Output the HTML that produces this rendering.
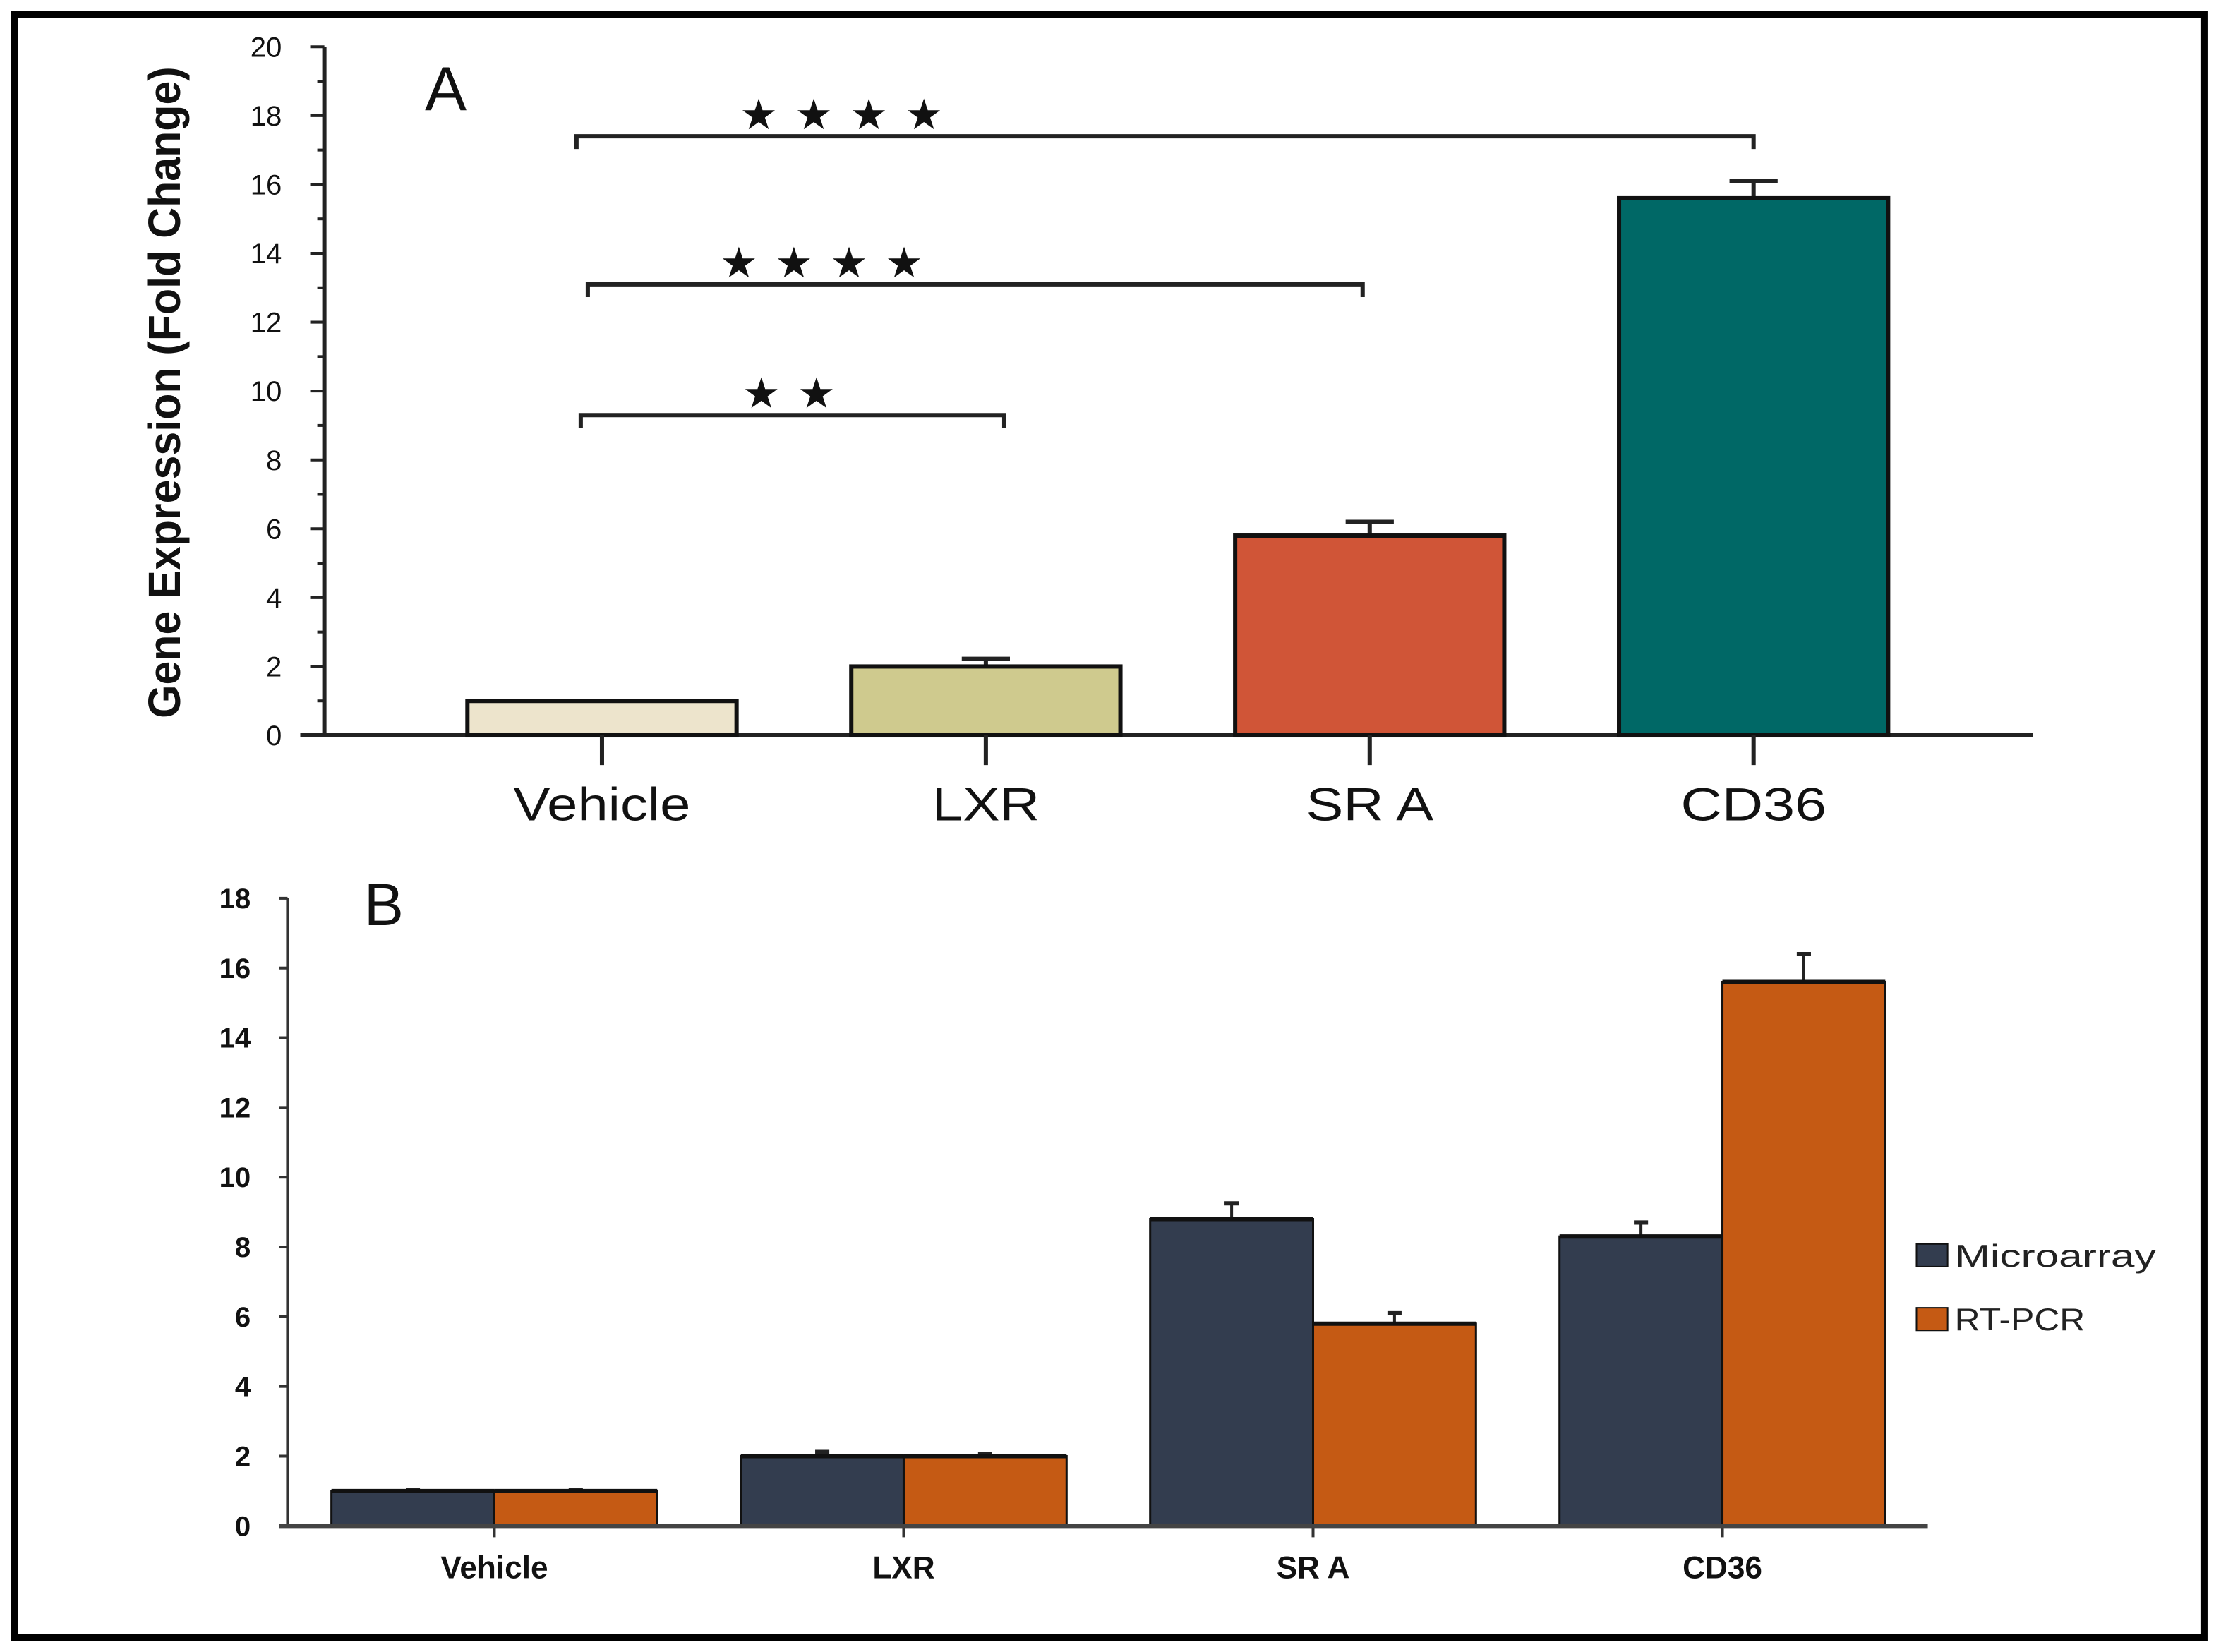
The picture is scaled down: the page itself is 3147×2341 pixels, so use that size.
<!DOCTYPE html>
<html><head><meta charset="utf-8"><style>
html,body{margin:0;padding:0;background:#fff;}
svg{display:block;}
text{font-family:"Liberation Sans Narrow","Liberation Sans",sans-serif;}
</style></head><body>
<svg id="fig" width="3147" height="2341" viewBox="0 0 1568 1166" preserveAspectRatio="none" xmlns="http://www.w3.org/2000/svg">
<rect x="0" y="0" width="1568" height="1166" fill="#fff"/>
<rect x="10" y="10" width="1546" height="1146" fill="none" stroke="#000" stroke-width="5"/>
<g id="panelA"></g>
<g id="panelB"></g>
</svg>
<script>
const catsA = ["Vehicle","LXR","SR A","CD36"];
const valsA = [1, 2, 5.8, 15.6];
const errA = [0, 0.22, 0.4, 0.5];
const colorsA = ["#ede4cc","#cfca8e","#d05537","#006866"];
const ticksA = [0,2,4,6,8,10,12,14,16,18,20];
const sigPairs = [[0,3],[0,2],[0,1]];
const sigLevels = [17.4, 13.1, 9.3];
const sigStars = ["★★★★","★★★★","★★"];

const catsB = ["Vehicle","LXR","SR A","CD36"];
const microB = [1, 2, 8.8, 8.3];
const microErr = [0.03, 0.12, 0.45, 0.4];
const rtB = [1, 2, 5.8, 15.6];
const rtErr = [0.03, 0.06, 0.3, 0.8];
const ticksB = [0,2,4,6,8,10,12,14,16,18];
const seriesB = ["Microarray","RT-PCR"];

const NS="http://www.w3.org/2000/svg";
function mk(parent,tag,attrs,txt){const e=document.createElementNS(NS,tag);for(const k in attrs)e.setAttribute(k,attrs[k]);if(txt!==undefined)e.textContent=txt;parent.appendChild(e);return e;}

// Panel A
const A=document.getElementById('panelA');
const yA=v=>519-v*(519-33)/20;
const cxA=i=>425+i*271;
const bwA=190;
let e;
e=mk(A,'line',{x1:229,y1:33,x2:229,y2:519,stroke:'#222','stroke-width':3});


e=mk(A,'line',{x1:212,y1:519,x2:1435,y2:519,stroke:'#222','stroke-width':3});


for(let t=0;t<=20;t+=1){mk(A,'line',{x1:229-(t%2?5:10),y1:yA(t),x2:229,y2:yA(t),stroke:'#222','stroke-width':2});}
ticksA.forEach(t=>{e=mk(A,'text',{x:199,y:yA(t)+7,'text-anchor':'end','font-size':20,fill:'#111'},String(t));

});
e=mk(A,'text',{x:0,y:0,transform:'translate(127,277) rotate(-90)','text-anchor':'middle','font-size':32,'font-weight':'bold',fill:'#111',textLength:460,lengthAdjust:'spacingAndGlyphs'},'Gene Expression (Fold Change)');


e=mk(A,'text',{x:300,y:78,'font-size':44,fill:'#111','font-family':'Liberation Sans, sans-serif'},'A');


const labWA=[125,76,90,103];
catsA.forEach((c,i)=>{
 const x=cxA(i)-bwA/2;
 if(errA[i]>0){mk(A,'line',{x1:cxA(i),y1:yA(valsA[i]+errA[i]),x2:cxA(i),y2:yA(valsA[i]),stroke:'#222','stroke-width':3});
  mk(A,'line',{x1:cxA(i)-17,y1:yA(valsA[i]+errA[i]),x2:cxA(i)+17,y2:yA(valsA[i]+errA[i]),stroke:'#222','stroke-width':3});}
 e=mk(A,'rect',{x:x,y:yA(valsA[i]),width:bwA,height:yA(0)-yA(valsA[i]),fill:colorsA[i],stroke:'#111','stroke-width':3});
 
 
 mk(A,'line',{x1:cxA(i),y1:519,x2:cxA(i),y2:540,stroke:'#222','stroke-width':3});
 e=mk(A,'text',{x:cxA(i),y:579,'text-anchor':'middle','font-size':33,fill:'#111','font-family':'Liberation Sans, sans-serif',textLength:labWA[i],lengthAdjust:'spacingAndGlyphs'},c);
 
 
});
const sigX=[[407,1238],[415,962],[410,709]];
const starX=[600,586,563];
sigPairs.forEach((p,k)=>{
 const y=yA(sigLevels[k]);const [x1,x2]=sigX[k];
 e=mk(A,'path',{d:`M${x1} ${y+9}V${y}H${x2}V${y+9}`,fill:'none',stroke:'#222','stroke-width':3});
 
 
 e=mk(A,'text',{x:starX[k],y:y-5,'text-anchor':'middle','font-size':30,fill:'#111','letter-spacing':'12','font-family':'DejaVu Sans, sans-serif'},sigStars[k]);
 
 
});

// Panel B
const B=document.getElementById('panelB');
const yB=v=>1077-v*(1077-634)/18;
const cxB=i=>349+i*289;
const bwB=115;
e=mk(B,'line',{x1:203,y1:634,x2:203,y2:1077,stroke:'#333','stroke-width':2});


ticksB.forEach(t=>{mk(B,'line',{x1:197,y1:yB(t),x2:203,y2:yB(t),stroke:'#333','stroke-width':2});
 e=mk(B,'text',{x:177,y:yB(t)+7,'text-anchor':'end','font-size':20,'font-weight':'bold',fill:'#111'},String(t));
 
 });
e=mk(B,'text',{x:257,y:653,'font-size':42,fill:'#111','font-family':'Liberation Sans, sans-serif'},'B');


catsB.forEach((c,i)=>{
 const cx=cxB(i);
 [[microB,microErr,'#333d4f',cx-bwB],[rtB,rtErr,'#c55a14',cx]].forEach(([v,er,col,x],s)=>{
  const mid=x+bwB/2;
  mk(B,'line',{x1:mid,y1:yB(v[i]+er[i]),x2:mid,y2:yB(v[i]),stroke:'#222','stroke-width':2});
  mk(B,'line',{x1:mid-5,y1:yB(v[i]+er[i]),x2:mid+5,y2:yB(v[i]+er[i]),stroke:'#222','stroke-width':3});
  e=mk(B,'rect',{x:x,y:yB(v[i]),width:bwB,height:yB(0)-yB(v[i]),fill:col,stroke:'#111','stroke-width':1.5});
  
  
  mk(B,'line',{x1:x,y1:yB(v[i]),x2:x+bwB,y2:yB(v[i]),stroke:'#111','stroke-width':3});
 });
 mk(B,'line',{x1:cx,y1:1077,x2:cx,y2:1085,stroke:'#333','stroke-width':2});
 e=mk(B,'text',{x:cx,y:1114,'text-anchor':'middle','font-size':22,'font-weight':'bold',fill:'#111','font-family':'Liberation Sans, sans-serif'},c);
 
 
});
e=mk(B,'line',{x1:197,y1:1077,x2:1361,y2:1077,stroke:'#444','stroke-width':3});


const legCols=['#333d4f','#c55a14'];
const legW=[142,92];
seriesB.forEach((s,k)=>{
 const y=878+k*45;
 e=mk(B,'rect',{x:1353,y:y,width:22,height:16,fill:legCols[k],stroke:'#111','stroke-width':1});
 
 
 e=mk(B,'text',{x:1380,y:y+16,'font-size':22,fill:'#222','font-family':'DejaVu Sans, sans-serif',textLength:legW[k],lengthAdjust:'spacingAndGlyphs'},s);
 
 
});
</script>
</body></html>
